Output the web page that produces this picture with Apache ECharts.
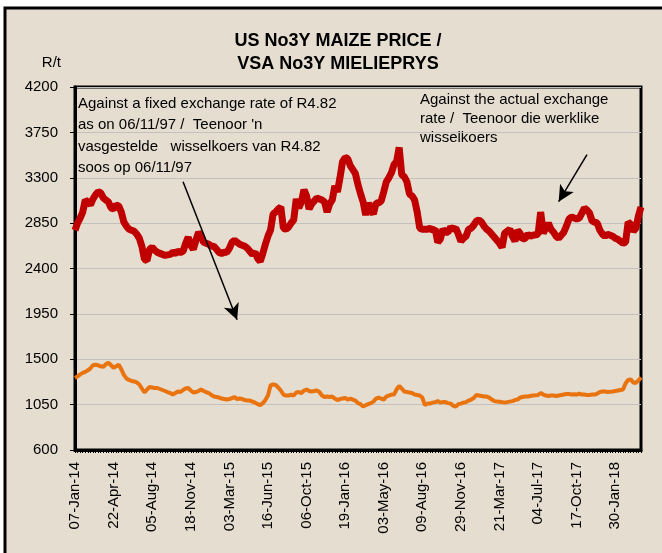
<!DOCTYPE html>
<html lang="en">
<head>
<meta charset="UTF-8">
<title>US No3Y maize price</title>
<script src="https://cdn.jsdelivr.net/npm/echarts@6/dist/echarts.min.js"></script>
<style>
  html, body { margin: 0; padding: 0; background: #ffffff; }
  #main { width: 662px; height: 553px; }
</style>
</head>
<body>
<div id="main"></div>
<script type="text/javascript">
// tick labels shown every 15 weekly points
var tickLabels = ['07-Jan-14', '22-Apr-14', '05-Aug-14', '18-Nov-14', '03-Mar-15', '16-Jun-15', '06-Oct-15',
    '19-Jan-16', '03-May-16', '09-Aug-16', '29-Nov-16', '21-Mar-17', '04-Jul-17', '17-Oct-17', '30-Jan-18'];

// against the actual exchange rate
var actualRate = [
    2780, 2850, 2900, 2960, 3080, 3060, 3030, 3090, 3130, 3160,
    3150, 3100, 3080, 3060, 3000, 2990, 3030, 3020, 2960, 2860,
    2820, 2790, 2780, 2770, 2740, 2700, 2620, 2490, 2480, 2590,
    2610, 2580, 2560, 2550, 2540, 2530, 2535, 2540, 2560, 2550,
    2570, 2560, 2570, 2650, 2710, 2630, 2590, 2680, 2760, 2720,
    2660, 2650, 2640, 2620, 2620, 2590, 2560, 2550, 2560, 2560,
    2600, 2660, 2680, 2660, 2640, 2630, 2620, 2600, 2570, 2540,
    2560, 2500, 2470, 2550, 2640, 2720, 2780, 2940, 2960, 2990,
    3010, 2800, 2790, 2810, 2850, 2880, 3090, 3000, 3060, 3180,
    3120, 2990, 3040, 3070, 3100, 3090, 3080, 3060, 2960, 3040,
    3080, 3220, 3160, 3300, 3460, 3500, 3490, 3420, 3380, 3340,
    3230, 3140, 3060, 2930, 3050, 2980, 2940, 3050, 3050, 3070,
    3160, 3260, 3300, 3350, 3430, 3460, 3600, 3330, 3310, 3260,
    3140, 3120, 3080, 2960, 2800, 2790, 2790, 2790, 2800, 2780,
    2790, 2660, 2690, 2790, 2760, 2760, 2810, 2790, 2800, 2740,
    2670, 2700, 2720, 2790, 2800, 2830, 2870, 2880, 2860, 2820,
    2790, 2770, 2740, 2710, 2680, 2650, 2610, 2750, 2770, 2790,
    2720, 2670, 2780, 2750, 2690, 2700, 2740, 2720, 2730, 2735,
    2740, 2960, 2750, 2800, 2850, 2790, 2760, 2720, 2700, 2730,
    2760, 2820, 2890, 2910, 2900, 2890, 2900, 2950, 3000, 2980,
    2950, 2870, 2860, 2850, 2780, 2740, 2720, 2740, 2730, 2720,
    2700, 2690, 2670, 2650, 2660, 2860, 2840, 2770, 2800, 2920,
    3010
];

// against the fixed rate of R4.82 (06/11/97)
var fixedRate = [
    1315, 1330, 1350, 1365, 1375, 1390, 1410, 1440, 1445, 1440,
    1430, 1425, 1450, 1465, 1440, 1415, 1430, 1445, 1400, 1345,
    1310, 1295, 1285, 1280, 1270, 1250, 1210, 1170, 1200, 1225,
    1220, 1215, 1215, 1205, 1195, 1185, 1175, 1165, 1150, 1165,
    1180, 1175, 1195, 1210, 1215, 1190, 1170, 1175, 1185, 1200,
    1185, 1175, 1165, 1145, 1130, 1125, 1120, 1110, 1105, 1100,
    1105, 1115, 1125, 1105, 1110, 1105, 1095, 1090, 1090, 1080,
    1070, 1055, 1045, 1065, 1095, 1140, 1240, 1250, 1245, 1220,
    1190, 1150, 1140, 1140, 1150, 1140, 1170, 1175, 1165, 1190,
    1200, 1185, 1180, 1185, 1190, 1175, 1140, 1125, 1130, 1125,
    1130, 1110, 1095, 1105, 1110, 1115, 1100, 1110, 1100, 1090,
    1065, 1055, 1030, 1045, 1055, 1065, 1080, 1110, 1120, 1110,
    1100, 1130, 1140, 1150, 1150, 1200, 1235, 1210, 1180, 1175,
    1170, 1165, 1150, 1145, 1140, 1120, 1045, 1060, 1060, 1070,
    1075, 1085, 1070, 1075, 1075, 1065, 1060, 1040, 1030, 1055,
    1060, 1070, 1075, 1090, 1100, 1115, 1145, 1140, 1135, 1130,
    1130, 1120, 1100, 1085, 1080, 1078, 1075, 1070, 1075, 1080,
    1085, 1095, 1100, 1120, 1125, 1130, 1130, 1135, 1140, 1142,
    1145, 1165, 1150, 1140, 1135, 1140, 1140, 1135, 1140, 1145,
    1150, 1155, 1155, 1150, 1152, 1150, 1160, 1150, 1150, 1145,
    1145, 1150, 1150, 1160, 1175, 1180, 1180, 1175, 1178, 1180,
    1185, 1190, 1195, 1200, 1260, 1295, 1300, 1270, 1265, 1290,
    1320
];

var categories = [];
for (var i = 0; i < actualRate.length; i++) {
    categories.push(i);
}

var font = "'Liberation Sans', Arial, sans-serif";

var myChart = echarts.init(document.getElementById('main'));
var option = {
    backgroundColor: '#ffffff',
    animation: false,
    title: {
        text: 'US No3Y MAIZE PRICE /\nVSA No3Y MIELIEPRYS',
        left: 333,
        top: 25,
        textAlign: 'center',
        textStyle: {
            fontFamily: font,
            fontSize: 18,
            fontWeight: 'bold',
            color: '#000',
            lineHeight: 23
        }
    },
    graphic: [
        {
            type: 'rect',
            z: -10,
            shape: {x: 5, y: 8, width: 700, height: 600},
            style: {fill: '#e5ddd0', stroke: '#000', lineWidth: 3}
        },
        {
            type: 'text',
            left: 78,
            top: 93,
            style: {
                text: "Against a fixed exchange rate of R4.82\nas on 06/11/97 /  Teenoor 'n\nvasgestelde   wisselkoers van R4.82\nsoos op 06/11/97",
                font: '15px ' + font,
                lineHeight: 21.5,
                fill: '#000'
            }
        },
        {
            type: 'text',
            left: 420,
            top: 90,
            style: {
                text: 'Against the actual exchange\nrate /  Teenoor die werklike\nwisselkoers',
                font: '15px ' + font,
                lineHeight: 19,
                fill: '#000'
            }
        }
    ],
    grid: {
        left: 75,
        right: 21,
        top: 87,
        bottom: 103,
        show: true,
        borderColor: '#000',
        borderWidth: 3
    },
    xAxis: {
        type: 'category',
        data: categories,
        boundaryGap: false,
        axisLine: {lineStyle: {color: '#000', width: 3}},
        axisTick: {show: true, interval: 0, length: 3, lineStyle: {color: '#000'}},
        axisLabel: {
            interval: 14,
            rotate: 90,
            margin: 12,
            fontFamily: font,
            fontSize: 15,
            color: '#000',
            formatter: function (value, idx) {
                return tickLabels[idx / 15] || '';
            }
        },
        splitLine: {show: false}
    },
    yAxis: {
        type: 'value',
        min: 600,
        max: 4200,
        interval: 450,
        name: 'R/t',
        nameLocation: 'end',
        nameGap: 17,
        nameTextStyle: {fontFamily: font, fontSize: 15, color: '#000', align: 'right', padding: [0, 14, 0, 0]},
        axisLine: {show: true, lineStyle: {color: '#000', width: 3}},
        axisTick: {show: true, length: 5, lineStyle: {color: '#000'}},
        axisLabel: {
            fontFamily: font,
            fontSize: 15,
            color: '#000',
            margin: 17,
            formatter: function (v) { return String(v); }
        },
        splitLine: {lineStyle: {color: '#c3c0bd', width: 1}}
    },
    series: [
        {
            name: 'Actual exchange rate',
            type: 'line',
            data: actualRate,
            symbol: 'none',
            lineStyle: {color: '#c00000', width: 7},
            markLine: {
                silent: true,
                symbol: ['none', 'arrow'],
                symbolSize: [12, 16],
                label: {show: false},
                lineStyle: {color: '#000', width: 1.5, type: 'solid'},
                data: [
                    [{coord: [42.1, 3261]}, {coord: [62.7, 1891]}],
                    [{coord: [198.7, 3529]}, {coord: [187.8, 3063]}]
                ]
            }
        },
        {
            name: 'Fixed exchange rate',
            type: 'line',
            data: fixedRate,
            symbol: 'none',
            lineStyle: {color: '#e8730f', width: 4}
        }
    ]
};
myChart.setOption(option);
</script>
</body>
</html>
